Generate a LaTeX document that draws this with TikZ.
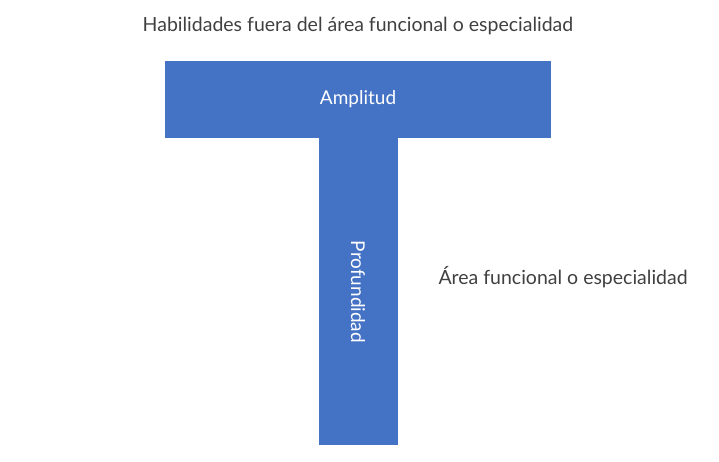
\documentclass[tikz,border=0pt]{standalone}
\usepackage{fontspec}
\setmainfont{Lato}
\usepackage{tikz}
\usetikzlibrary{positioning}
\definecolor{tblue}{RGB}{68,114,196}
\definecolor{tgray}{RGB}{64,64,64}

\begin{document}
\begin{tikzpicture}[x=1pt, y=1pt,
    bar/.style={fill=tblue, draw=none, text=white, font=\fontsize{19}{22}\selectfont, inner sep=0pt},
    lbl/.style={text=tgray, font=\fontsize{19.5}{23}\selectfont}]
      \useasboundingbox (0,0) rectangle (719,461);
      \node[bar, minimum width=386pt, minimum height=77pt] (amplitud) at (358,361.5) {Amplitud};
      \node[bar, minimum width=307pt, minimum height=79pt, rotate=-90, anchor=west] (profundidad) at (amplitud.south) {Profundidad};
      \node[lbl, above=22pt of amplitud] (habilidades) {Habilidades fuera del área funcional o especialidad};
      \node[lbl, anchor=west] (area) at (435,184) {Área funcional o especialidad};
    \end{tikzpicture}
\end{document}
